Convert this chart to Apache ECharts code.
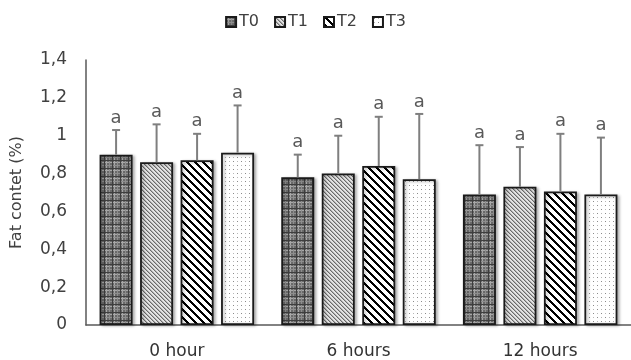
<!DOCTYPE html>
<html><head><meta charset="utf-8">
<script src="https://cdn.jsdelivr.net/npm/echarts@6/dist/echarts.min.js"></script>
<style>html,body{margin:0;padding:0;background:#fff}#c{width:631px;height:360px}</style>
</head><body><div id="c"></div>
<script>
const categories = ['0 hour', '6 hours', '12 hours'];
const seriesNames = ['T0', 'T1', 'T2', 'T3'];
const T0 = [0.90, 0.78, 0.69];
const T1 = [0.86, 0.80, 0.73];
const T2 = [0.87, 0.84, 0.705];
const T3 = [0.91, 0.77, 0.69];
const T0_err = [1.03, 0.90, 0.95];
const T1_err = [1.06, 1.00, 0.94];
const T2_err = [1.01, 1.10, 1.01];
const T3_err = [1.16, 1.115, 0.99];
const sigLetters = [['a','a','a'],['a','a','a'],['a','a','a'],['a','a','a']];
const yTickLabels = ['0', '0,2', '0,4', '0,6', '0,8', '1', '1,2', '1,4'];

const values = [T0, T1, T2, T3];
const errs = [T0_err, T1_err, T2_err, T3_err];

function makePattern(w, h, draw) {
  const c = document.createElement('canvas');
  c.width = w; c.height = h;
  const g = c.getContext('2d');
  draw(g, w, h);
  return { image: c, repeat: 'repeat' };
}
const patterns = [
  makePattern(8, 8, (g) => {
    g.fillStyle = '#6a6a6a'; g.fillRect(0, 0, 8, 8);
    g.fillStyle = '#a8a8a8'; g.fillRect(2, 0, 1, 8); g.fillRect(0, 2, 8, 1);
    g.fillStyle = '#8e8e8e'; g.fillRect(5, 0, 1, 8); g.fillRect(0, 5, 8, 1);
    g.fillStyle = '#3e3e3e'; g.fillRect(0, 0, 1, 8); g.fillRect(0, 0, 8, 1);
  }),
  makePattern(4, 4, (g) => {
    g.fillStyle = '#e4e4e4'; g.fillRect(0, 0, 4, 4);
    g.fillStyle = '#6a6a6a';
    for (let i = 0; i < 4; i++) g.fillRect(i, i, 1, 1);
    g.fillStyle = '#b0b0b0';
    for (let i = 0; i < 4; i++) g.fillRect((i + 1) % 4, i, 1, 1);
  }),
  makePattern(8, 8, (g) => {
    for (let y = 0; y < 8; y++) for (let x = 0; x < 8; x++) {
      const d = ((x - y) % 8 + 8) % 8;
      g.fillStyle = d < 3 ? '#000' : '#fff';
      g.fillRect(x, y, 1, 1);
    }
  }),
  makePattern(8, 8, (g) => {
    g.fillStyle = '#fff'; g.fillRect(0, 0, 8, 8);
    g.fillStyle = '#8a8a8a'; g.fillRect(1, 1, 1, 1); g.fillRect(5, 5, 1, 1);
    g.fillStyle = '#b8b8b8'; g.fillRect(5, 1, 1, 1); g.fillRect(1, 5, 1, 1);
  })
];

const BAR_W = 33, GAP = 7.5;
const groupW = 4 * BAR_W + 3 * GAP;

const series = [];
seriesNames.forEach((name, s) => {
  series.push({
    name, type: 'bar', data: values[s], barWidth: BAR_W, barGap: (GAP / BAR_W * 100) + '%',
    itemStyle: { color: patterns[s], borderColor: '#1a1a1a', borderWidth: 1.8,
      shadowColor: 'rgba(0,0,0,0.28)', shadowBlur: 3, shadowOffsetX: 2, shadowOffsetY: 1 },
    z: 2
  });
});
seriesNames.forEach((name, s) => {
  series.push({
    type: 'custom', name: name + '_err', silent: true, z: 3,
    data: values[s].map((v, i) => [i, v, errs[s][i]]),
    encode: { x: 0, y: [1, 2] },
    renderItem: (params, api) => {
      const i = api.value(0);
      const off = -groupW / 2 + BAR_W / 2 + s * (BAR_W + GAP);
      const p0 = api.coord([i, api.value(1)]);
      const p1 = api.coord([i, api.value(2)]);
      const x = p0[0] + off;
      return { type: 'group', children: [
        { type: 'line', shape: { x1: x, y1: p0[1], x2: x, y2: p1[1] }, style: { stroke: '#7f7f7f', lineWidth: 2 } },
        { type: 'line', shape: { x1: x - 4, y1: p1[1], x2: x + 4, y2: p1[1] }, style: { stroke: '#7f7f7f', lineWidth: 2 } },
        { type: 'text', x: x, y: p1[1] - 3, style: { text: sigLetters[s][i], fill: '#595959', font: '18px "DejaVu Sans"', textAlign: 'center', textVerticalAlign: 'bottom' } }
      ] };
    }
  });
});

const chart = echarts.init(document.getElementById('c'));
chart.setOption({
  animation: false,
  backgroundColor: '#fff',
  legend: {
    data: seriesNames, top: 9, left: 'center', icon: 'rect', itemWidth: 10, itemHeight: 10, itemGap: 15,
    textStyle: { fontFamily: 'DejaVu Sans', fontSize: 16, color: '#404040', padding: [0, 0, 0, -2] }
  },
  grid: { left: 86, right: -7, top: 60, bottom: 34 },
  xAxis: {
    type: 'category', data: categories,
    axisLine: { lineStyle: { color: '#595959', width: 1.5 } },
    axisTick: { show: false },
    axisLabel: { fontFamily: 'DejaVu Sans', fontSize: 17, color: '#333', margin: 18 }
  },
  yAxis: {
    type: 'value', min: 0, max: 1.4, interval: 0.2,
    name: 'Fat contet (%)', nameLocation: 'middle', nameGap: 61, nameRotate: 90,
    nameTextStyle: { fontFamily: 'DejaVu Sans', fontSize: 16, color: '#404040' },
    axisLine: { show: true, lineStyle: { color: '#595959', width: 1.5 } },
    axisTick: { show: false },
    splitLine: { show: false },
    axisLabel: { fontFamily: 'DejaVu Sans', fontSize: 17, color: '#404040', margin: 19,
      formatter: (v) => yTickLabels[Math.round(v / 0.2)] }
  },
  series
});
</script></body></html>
